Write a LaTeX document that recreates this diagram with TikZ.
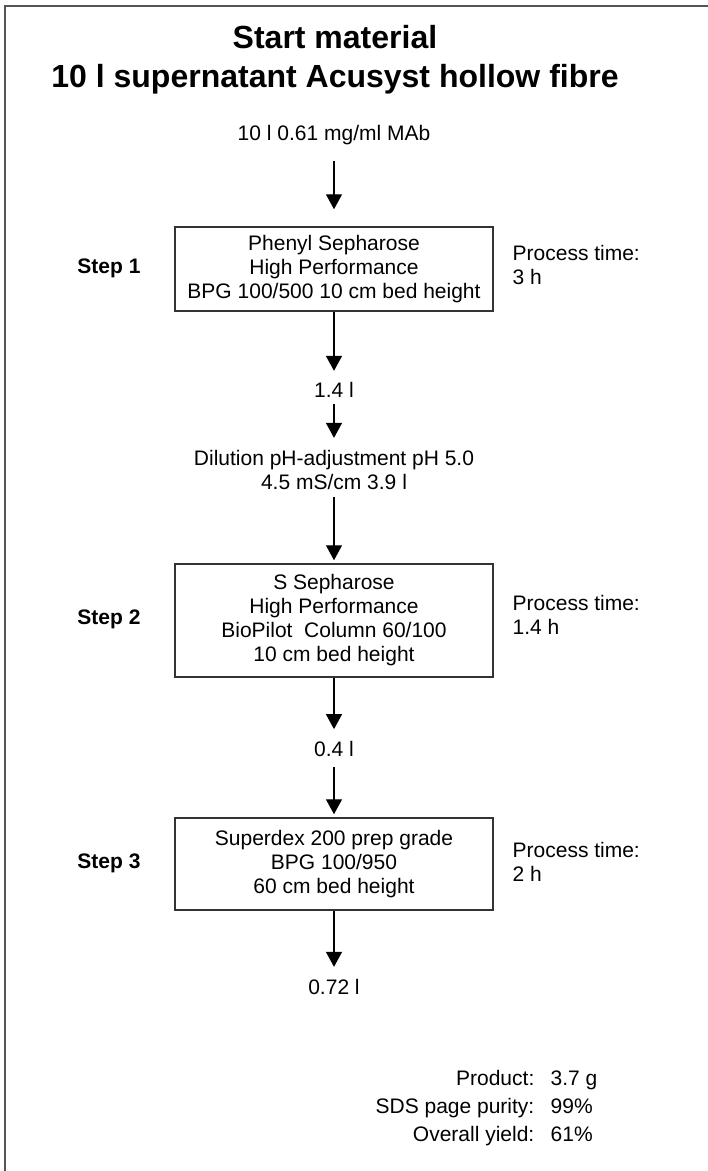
\documentclass[tikz,border=0pt]{standalone}
\usepackage{fontspec}
\setmainfont{Liberation Sans}
\usetikzlibrary{arrows.meta}
\definecolor{cframe}{HTML}{555555}
\definecolor{cline}{HTML}{333333}
\tikzset{
  every picture/.style={font=\fontsize{21}{24}\selectfont, line width=1.3pt},
  column/.style={draw=cline, line width=1.5pt, align=center, minimum width=318pt, minimum height=#1, inner sep=0pt},
  flow/.style={-{Triangle[width=16pt, length=15pt]}, draw=black, line width=1.3pt},
  heading/.style={font=\fontsize{32}{38.5}\selectfont\bfseries, align=center, inner sep=0pt},
  txt/.style={anchor=base, inner sep=0pt, align=center},
  steplabel/.style={font=\fontsize{21}{24}\selectfont\bfseries, anchor=base, inner sep=0pt},
  info/.style={anchor=west, align=left, inner sep=0pt},
}

\begin{document}
\begin{tikzpicture}[x=1pt, y=-1pt]
  \useasboundingbox (0,0) rectangle (708,1171);
  % frame
  \draw[cframe, line width=2pt] (5,1171) |- (708,5.7);
  % title and feed
  \node[heading] (head) at (335,59.8) {Start material\\10 l supernatant Acusyst hollow fibre};
  \node[txt] (feed) at (334,140) {10 l 0.61 mg/ml MAb};
  % step 1
  \node[column=84pt] (box1) at (334,269) {Phenyl Sepharose\\High Performance\\BPG 100/500 10 cm bed height};
  \node[steplabel] (step1) at (109,273) {Step 1};
  \node[info] (time1) at (512,264.6) {Process time:\\3 h};
  \node[txt] (vol1) at (334,397) {1.4 l};
  \node[align=center, inner sep=0pt] (dil) at (334,469.5) {Dilution pH-adjustment pH 5.0\\4.5 mS/cm 3.9 l};
  % step 2
  \node[column=113pt] (box2) at (334,620.5) {S Sepharose\\High Performance\\BioPilot\ \ Column 60/100\\10 cm bed height};
  \node[steplabel] (step2) at (109,624) {Step 2};
  \node[info] (time2) at (512,614.6) {Process time:\\1.4 h};
  \node[txt] (vol2) at (334,756) {0.4 l};
  % step 3
  \node[column=92pt] (box3) at (334,864) {Superdex 200 prep grade\\BPG 100/950\\60 cm bed height};
  \node[steplabel] (step3) at (109,868) {Step 3};
  \node[info] (time3) at (512,861.5) {Process time:\\2 h};
  \node[txt] (vol3) at (334,994) {0.72 l};
  % connectors
  \draw[flow, shorten <=15.7pt, shorten >=17pt] (feed) -- (box1);
  \draw[flow, shorten >=10.3pt] (box1) -- (vol1);
  \draw[flow, shorten <=6pt, shorten >=11.3pt] (vol1) -- (dil);
  \draw[flow, shorten <=7.5pt, shorten >=3pt] (dil) -- (box2);
  \draw[flow, shorten >=11pt] (box2) -- (vol2);
  \draw[flow, shorten <=10pt, shorten >=3pt] (vol2) -- (box3);
  \draw[flow, shorten >=11.3pt] (box3) -- (vol3);
  % results
  \foreach \i/\k/\v/\y in {1/Product:/3.7 g/1085, 2/SDS page purity:/99\%/1113, 3/Overall yield:/61\%/1141} {
    \node[txt, anchor=base east] (key\i) at (535,\y) {\k};
    \node[txt, anchor=base west] (val\i) at (550,\y) {\v};
  }
\end{tikzpicture}
\end{document}
